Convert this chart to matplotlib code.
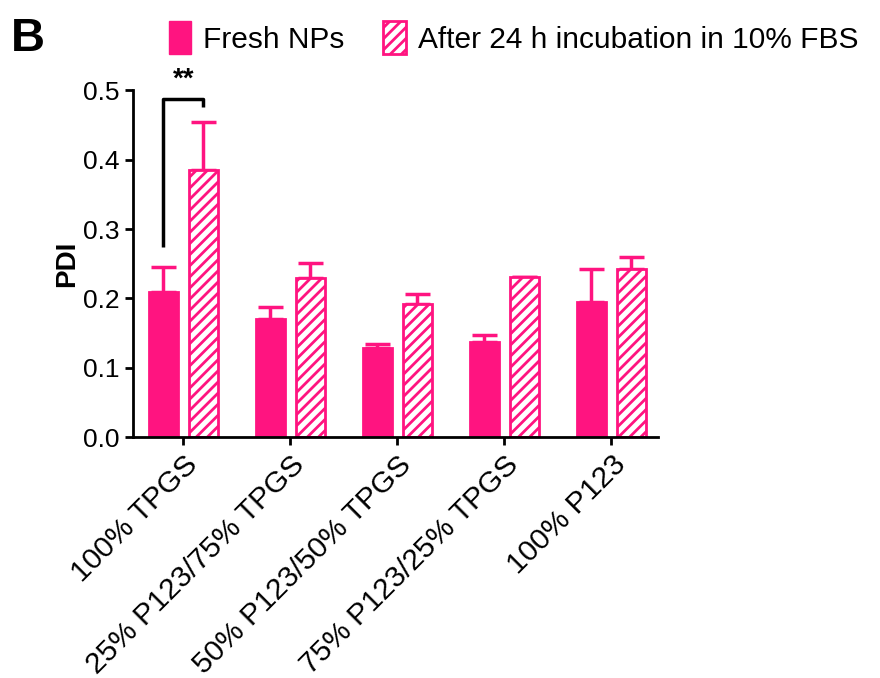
import numpy as np
import matplotlib
matplotlib.use("Agg")
import matplotlib.pyplot as plt
from matplotlib.patches import Patch

plt.rcParams['font.family'] = ['Liberation Sans', 'DejaVu Sans']
plt.rcParams['hatch.linewidth'] = 2.0

PINK = '#ff1480'

groups = ['100% TPGS', '25% P123/75% TPGS', '50% P123/50% TPGS',
          '75% P123/25% TPGS', '100% P123']
fresh = [0.209, 0.171, 0.128, 0.138, 0.195]
fresh_err = [0.036, 0.016, 0.006, 0.010, 0.048]
serum = [0.385, 0.230, 0.192, 0.231, 0.242]
serum_err = [0.069, 0.021, 0.015, 0.0, 0.017]
yticks = [0.0, 0.1, 0.2, 0.3, 0.4, 0.5]

fig = plt.figure(figsize=(8.8, 6.78), dpi=100)
ax = fig.add_axes([0.151, 0.355, 0.597, 0.512])

x = np.arange(len(groups))
w = 0.27
off = 0.187

ax.bar(x - off, fresh, w, color=PINK, edgecolor=PINK, linewidth=2, zorder=2)
ax.bar(x + off, serum, w, color='white', edgecolor=PINK, hatch='///',
       linewidth=2, zorder=2)
ax.errorbar(x - off, fresh, yerr=[np.zeros(5), fresh_err], fmt='none',
            ecolor=PINK, elinewidth=2.5, capsize=9, capthick=2.5, zorder=1)
ax.errorbar(x + off, serum, yerr=[np.zeros(5), serum_err], fmt='none',
            ecolor=PINK, elinewidth=2.5, capsize=9, capthick=2.5, zorder=1)

# significance bracket
ax.plot([x[0] - off, x[0] - off, x[0] + off, x[0] + off],
        [0.274, 0.488, 0.488, 0.476], color='black', lw=2.5,
        solid_capstyle='butt', clip_on=False)
ax.text(x[0], 0.497, '**', ha='center', va='bottom', fontsize=20,
        fontweight='bold')

ax.set_xlim(-0.47, 4.44)
ax.set_ylim(0, 0.5)
ax.set_yticks(yticks)
ax.set_yticklabels(['%.1f' % t for t in yticks], fontsize=19)
ax.set_xticks(x)
ax.set_xticklabels(groups, rotation=45, ha='right', rotation_mode='anchor',
                   fontsize=21.5)
ax.set_ylabel('PDI', fontsize=20, fontweight='bold', labelpad=2)

for s in ['top', 'right']:
    ax.spines[s].set_visible(False)
for s in ['left', 'bottom']:
    ax.spines[s].set_linewidth(2)
ax.tick_params(width=2, length=6)

handles = [Patch(facecolor=PINK, edgecolor=PINK, label='Fresh NPs'),
           Patch(facecolor='white', edgecolor=PINK, hatch='///', linewidth=2,
                 label='After 24 h incubation in 10% FBS')]
fig.legend(handles=handles, loc='upper left', bbox_to_anchor=(0.168, 1.0),
           ncol=2, frameon=False, fontsize=21.5, handlelength=0.75,
           handleheight=1.35, handletextpad=0.4, columnspacing=1.3,
           borderaxespad=0.3)

fig.text(0.012, 0.975, 'B', fontsize=34, fontweight='bold', va='top')

fig.savefig('out.png', dpi=100)
